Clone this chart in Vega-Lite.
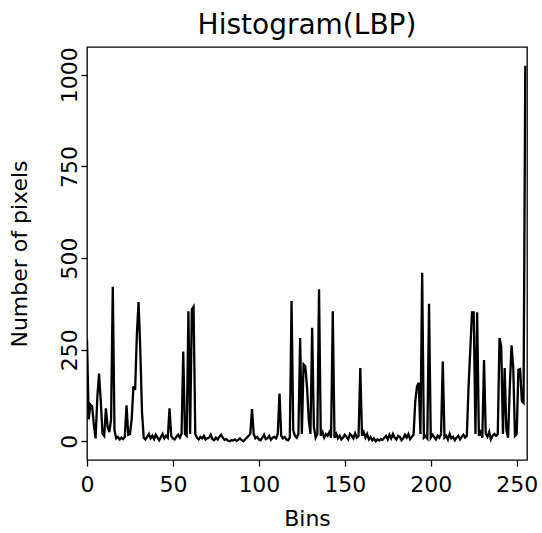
{
  "$schema": "https://vega.github.io/schema/vega-lite/v6.json",
  "autosize": {"type": "none"},
  "width": 440,
  "height": 413,
  "padding": {"left": 87, "top": 47, "right": 15, "bottom": 73},
  "background": "white",
  "title": {"text": "Histogram(LBP)", "fontSize": 28, "font": "DejaVu Sans", "fontWeight": "normal", "color": "#000", "offset": 7},
  "config": {
    "view": {"stroke": "#000", "strokeWidth": 1.3},
    "font": "DejaVu Sans",
    "axis": {"domain": false, "grid": false, "tickColor": "#000", "tickWidth": 1.3, "tickSize": 6, "labelColor": "#000", "titleColor": "#000", "labelFont": "DejaVu Sans", "titleFont": "DejaVu Sans", "labelFontSize": 22, "titleFontSize": 22, "titleFontWeight": "normal"}
  },
  "data": {"values": [
    {"bin":0,"count":278},{"bin":1,"count":60},{"bin":2,"count":100},{"bin":3,"count":95},{"bin":4,"count":45},{"bin":5,"count":8},{"bin":6,"count":120},{"bin":7,"count":185},{"bin":8,"count":110},{"bin":9,"count":22},
    {"bin":10,"count":15},{"bin":11,"count":90},{"bin":12,"count":40},{"bin":13,"count":25},{"bin":14,"count":60},{"bin":15,"count":422},{"bin":16,"count":30},{"bin":17,"count":8},{"bin":18,"count":12},{"bin":19,"count":5},
    {"bin":20,"count":10},{"bin":21,"count":6},{"bin":22,"count":12},{"bin":23,"count":98},{"bin":24,"count":18},{"bin":25,"count":20},{"bin":26,"count":60},{"bin":27,"count":150},{"bin":28,"count":140},{"bin":29,"count":290},
    {"bin":30,"count":380},{"bin":31,"count":250},{"bin":32,"count":80},{"bin":33,"count":10},{"bin":34,"count":5},{"bin":35,"count":12},{"bin":36,"count":20},{"bin":37,"count":8},{"bin":38,"count":15},{"bin":39,"count":6},
    {"bin":40,"count":18},{"bin":41,"count":10},{"bin":42,"count":3},{"bin":43,"count":12},{"bin":44,"count":20},{"bin":45,"count":8},{"bin":46,"count":15},{"bin":47,"count":10},{"bin":48,"count":90},{"bin":49,"count":15},
    {"bin":50,"count":8},{"bin":51,"count":5},{"bin":52,"count":12},{"bin":53,"count":18},{"bin":54,"count":10},{"bin":55,"count":20},{"bin":56,"count":245},{"bin":57,"count":20},{"bin":58,"count":15},{"bin":59,"count":355},
    {"bin":60,"count":20},{"bin":61,"count":360},{"bin":62,"count":367},{"bin":63,"count":20},{"bin":64,"count":10},{"bin":65,"count":5},{"bin":66,"count":12},{"bin":67,"count":8},{"bin":68,"count":15},{"bin":69,"count":5},
    {"bin":70,"count":8},{"bin":71,"count":10},{"bin":72,"count":18},{"bin":73,"count":6},{"bin":74,"count":3},{"bin":75,"count":10},{"bin":76,"count":5},{"bin":77,"count":12},{"bin":78,"count":18},{"bin":79,"count":10},
    {"bin":80,"count":4},{"bin":81,"count":6},{"bin":82,"count":2},{"bin":83,"count":0},{"bin":84,"count":3},{"bin":85,"count":2},{"bin":86,"count":5},{"bin":87,"count":1},{"bin":88,"count":4},{"bin":89,"count":8},
    {"bin":90,"count":3},{"bin":91,"count":0},{"bin":92,"count":5},{"bin":93,"count":10},{"bin":94,"count":15},{"bin":95,"count":20},{"bin":96,"count":88},{"bin":97,"count":20},{"bin":98,"count":8},{"bin":99,"count":12},
    {"bin":100,"count":5},{"bin":101,"count":3},{"bin":102,"count":10},{"bin":103,"count":18},{"bin":104,"count":6},{"bin":105,"count":8},{"bin":106,"count":15},{"bin":107,"count":4},{"bin":108,"count":10},{"bin":109,"count":12},
    {"bin":110,"count":8},{"bin":111,"count":20},{"bin":112,"count":130},{"bin":113,"count":15},{"bin":114,"count":8},{"bin":115,"count":12},{"bin":116,"count":5},{"bin":117,"count":3},{"bin":118,"count":10},{"bin":119,"count":383},
    {"bin":120,"count":30},{"bin":121,"count":15},{"bin":122,"count":10},{"bin":123,"count":20},{"bin":124,"count":282},{"bin":125,"count":20},{"bin":126,"count":210},{"bin":127,"count":205},{"bin":128,"count":150},{"bin":129,"count":60},
    {"bin":130,"count":20},{"bin":131,"count":310},{"bin":132,"count":40},{"bin":133,"count":10},{"bin":134,"count":20},{"bin":135,"count":415},{"bin":136,"count":15},{"bin":137,"count":25},{"bin":138,"count":10},{"bin":139,"count":20},
    {"bin":140,"count":15},{"bin":141,"count":25},{"bin":142,"count":10},{"bin":143,"count":355},{"bin":144,"count":10},{"bin":145,"count":20},{"bin":146,"count":8},{"bin":147,"count":15},{"bin":148,"count":5},{"bin":149,"count":10},
    {"bin":150,"count":18},{"bin":151,"count":12},{"bin":152,"count":5},{"bin":153,"count":20},{"bin":154,"count":15},{"bin":155,"count":8},{"bin":156,"count":22},{"bin":157,"count":10},{"bin":158,"count":15},{"bin":159,"count":200},
    {"bin":160,"count":15},{"bin":161,"count":25},{"bin":162,"count":10},{"bin":163,"count":20},{"bin":164,"count":5},{"bin":165,"count":12},{"bin":166,"count":3},{"bin":167,"count":8},{"bin":168,"count":0},{"bin":169,"count":5},
    {"bin":170,"count":2},{"bin":171,"count":6},{"bin":172,"count":4},{"bin":173,"count":10},{"bin":174,"count":15},{"bin":175,"count":5},{"bin":176,"count":18},{"bin":177,"count":8},{"bin":178,"count":20},{"bin":179,"count":10},
    {"bin":180,"count":5},{"bin":181,"count":15},{"bin":182,"count":12},{"bin":183,"count":3},{"bin":184,"count":8},{"bin":185,"count":18},{"bin":186,"count":10},{"bin":187,"count":20},{"bin":188,"count":6},{"bin":189,"count":12},
    {"bin":190,"count":18},{"bin":191,"count":110},{"bin":192,"count":150},{"bin":193,"count":160},{"bin":194,"count":20},{"bin":195,"count":460},{"bin":196,"count":10},{"bin":197,"count":15},{"bin":198,"count":8},{"bin":199,"count":375},
    {"bin":200,"count":10},{"bin":201,"count":18},{"bin":202,"count":12},{"bin":203,"count":5},{"bin":204,"count":15},{"bin":205,"count":10},{"bin":206,"count":20},{"bin":207,"count":218},{"bin":208,"count":10},{"bin":209,"count":15},
    {"bin":210,"count":5},{"bin":211,"count":20},{"bin":212,"count":8},{"bin":213,"count":12},{"bin":214,"count":3},{"bin":215,"count":10},{"bin":216,"count":15},{"bin":217,"count":5},{"bin":218,"count":12},{"bin":219,"count":18},
    {"bin":220,"count":10},{"bin":221,"count":15},{"bin":222,"count":150},{"bin":223,"count":250},{"bin":224,"count":352},{"bin":225,"count":352},{"bin":226,"count":20},{"bin":227,"count":352},{"bin":228,"count":15},{"bin":229,"count":25},
    {"bin":230,"count":10},{"bin":231,"count":222},{"bin":232,"count":20},{"bin":233,"count":12},{"bin":234,"count":25},{"bin":235,"count":5},{"bin":236,"count":15},{"bin":237,"count":20},{"bin":238,"count":15},{"bin":239,"count":20},
    {"bin":240,"count":282},{"bin":241,"count":260},{"bin":242,"count":20},{"bin":243,"count":200},{"bin":244,"count":30},{"bin":245,"count":10},{"bin":246,"count":150},{"bin":247,"count":262},{"bin":248,"count":200},{"bin":249,"count":15},
    {"bin":250,"count":20},{"bin":251,"count":195},{"bin":252,"count":197},{"bin":253,"count":110},{"bin":254,"count":105},{"bin":255,"count":1025}
  ]},
  "mark": {"type": "line", "color": "#000", "strokeWidth": 2.3, "clip": true},
  "encoding": {
    "x": {"field": "bin", "type": "quantitative", "scale": {"domain": [0, 256], "nice": false, "zero": false},
      "axis": {"title": "Bins", "values": [0, 50, 100, 150, 200, 250], "labelPadding": 8, "titlePadding": 13, "labelFlush": false}},
    "y": {"field": "count", "type": "quantitative", "scale": {"domain": [-51, 1076], "nice": false, "zero": false},
      "axis": {"title": "Number of pixels", "format": "d", "values": [0, 250, 500, 750, 1000], "labelAngle": -90, "labelAlign": "center", "labelBaseline": "alphabetic", "labelPadding": 5, "titlePadding": 27, "labelFlush": false}}
  }
}
